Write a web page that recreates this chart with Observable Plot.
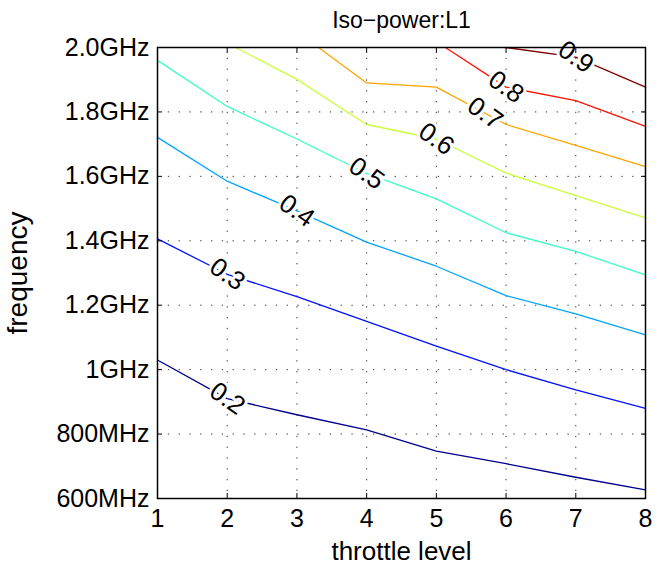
<!DOCTYPE html>
<html><head><meta charset="utf-8">
<script src="https://cdn.jsdelivr.net/npm/d3@7"></script>
<script src="https://cdn.jsdelivr.net/npm/@observablehq/plot@0.6"></script>
<style>body{margin:0;background:#fff} #chart svg{display:block}</style>
</head><body><div id="chart"></div>
<script>
// contour levels and their colours (MATLAB jet)
const levels = [0.2, 0.3, 0.4, 0.5, 0.6, 0.7, 0.8, 0.9];
const levelColors = ["#00008f", "#0012ff", "#00a4ff", "#37ffc8", "#c8ff37", "#ffa400", "#ff1200", "#800000"];

// iso-power lines: throttle level (x) vs frequency in MHz (y)
const x02 = [1, 2, 3, 4, 5, 6, 7, 8];
const f02 = [1030, 910, 860, 813, 747, 708, 666, 627];
const x03 = [1, 2, 3, 4, 5, 6, 7, 8];
const f03 = [1406, 1296, 1227, 1150, 1073, 1000, 937, 880];
const x04 = [1, 2, 3, 4, 5, 6, 7, 8];
const f04 = [1721, 1585, 1493, 1396, 1321, 1230, 1173, 1108];
const x05 = [1, 2, 3, 4, 5, 6, 7, 8];
const f05 = [1960, 1817, 1716, 1609, 1530, 1425, 1367, 1294];
const x06 = [2.12, 3, 4, 5, 6, 7, 8];
const f06 = [2000, 1901, 1761, 1716, 1610, 1540, 1471];
const x07 = [3.31, 4, 5, 6, 7, 8];
const f07 = [2000, 1890, 1877, 1761, 1696, 1630];
const x08 = [5.13, 6, 7, 8];
const f08 = [2000, 1877, 1835, 1755];
const x09 = [6.0, 7, 8];
const f09 = [2000, 1970, 1877];

// where along each line (throttle level) the inline label sits
const labelAt = [2, 2, 3, 4, 5, 5.7, 6, 7];

const xTicks = [1, 2, 3, 4, 5, 6, 7, 8];
const yTicks = [600, 800, 1000, 1200, 1400, 1600, 1800, 2000];
const yTickLabels = ["600MHz", "800MHz", "1GHz", "1.2GHz", "1.4GHz", "1.6GHz", "1.8GHz", "2.0GHz"];

const titleText = "Iso\u2212power:L1";
const xLabel = "throttle level";
const yLabel = "frequency";

const series = [[x02, f02], [x03, f03], [x04, f04], [x05, f05], [x06, f06], [x07, f07], [x08, f08], [x09, f09]];
const rows = series.flatMap(([xs, fs], i) => xs.map((t, j) => ({level: levels[i], t, f: fs[j]})));

function interp(xs, fs, q) {
  for (let j = 0; j < xs.length - 1; j++) {
    if (q >= xs[j] && q <= xs[j + 1]) {
      const u = (q - xs[j]) / (xs[j + 1] - xs[j]);
      return fs[j] + u * (fs[j + 1] - fs[j]);
    }
  }
  return fs[fs.length - 1];
}
const labelRows = series.map(([xs, fs], i) => ({level: levels[i], t: labelAt[i], f: interp(xs, fs, labelAt[i])}));

const font = "Liberation Sans, Arial, Helvetica, sans-serif";
const gridStyle = {stroke: "#333", strokeOpacity: 1, strokeWidth: 1, strokeDasharray: "1.3,9.5"};

const chart = Plot.plot({
  width: 666, height: 571,
  marginLeft: 157, marginRight: 21, marginTop: 47, marginBottom: 73,
  style: {fontFamily: font, fontSize: "25px", background: "white", color: "black", overflow: "visible"},
  x: {domain: [1, 8], axis: null},
  y: {domain: [600, 2000], axis: null},
  color: {domain: levels, range: levelColors},
  marks: [
    Plot.gridX(xTicks, gridStyle),
    Plot.gridY(yTicks, gridStyle),
    Plot.line(rows, {x: "t", y: "f", z: "level", stroke: "level", strokeWidth: 1.3}),
    Plot.text(labelRows, {x: "t", y: "f", text: d => String(d.level), rotate: 35, fontSize: 26,
      fill: "black", stroke: "white", strokeWidth: 6, paintOrder: "stroke"}),
    Plot.frame({stroke: "black", strokeWidth: 1.5}),
    Plot.axisX(xTicks, {anchor: "bottom", tickSize: -5, tickFormat: () => "", label: null}),
    Plot.axisX(xTicks, {anchor: "top", tickSize: -5, tickFormat: () => "", label: null}),
    Plot.axisY(yTicks, {anchor: "left", tickSize: -5, tickFormat: () => "", label: null}),
    Plot.axisY(yTicks, {anchor: "right", tickSize: -5, tickFormat: () => "", label: null}),
    Plot.text(xTicks, {x: d => d, frameAnchor: "bottom", lineAnchor: "middle", dy: 20, fontSize: 25, fill: "black"}),
    Plot.text(yTicks, {y: d => d, frameAnchor: "left", textAnchor: "end", dx: -8, fontSize: 25, fill: "black",
      text: d => yTickLabels[yTicks.indexOf(d)]}),
    Plot.text([xLabel], {frameAnchor: "bottom", lineAnchor: "middle", textAnchor: "middle", dy: 53, fontSize: 26, fill: "black"}),
    Plot.text([yLabel], {frameAnchor: "left", lineAnchor: "middle", textAnchor: "middle", dx: -139, rotate: -90, fontSize: 28, fill: "black"}),
    Plot.text([titleText], {frameAnchor: "top", lineAnchor: "middle", textAnchor: "middle", dy: -27, fontSize: 23, fill: "black"})
  ]
});
document.getElementById("chart").appendChild(chart);
</script>
</body></html>
